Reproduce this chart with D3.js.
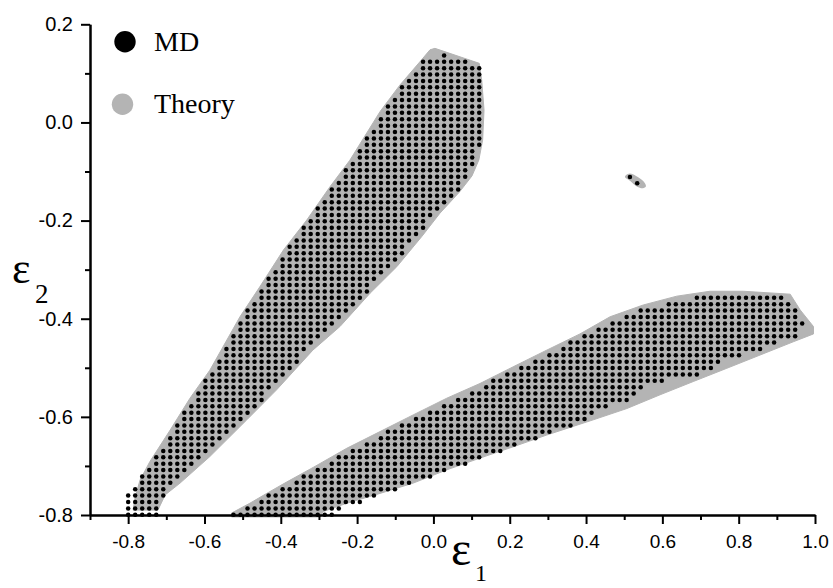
<!DOCTYPE html>
<html>
<head>
<meta charset="utf-8">
<script src="https://cdn.jsdelivr.net/npm/d3@7"></script>
<style>
  body { margin: 0; background: #fff; }
  svg { display: block; }
  .tick text { font-family: "Liberation Sans", Arial, sans-serif; fill: #000; }
  .x-axis .tick text { font-size: 19px; }
  .y-axis .tick text { font-size: 20px; }
  .serif { font-family: "Liberation Serif", "Times New Roman", serif; fill: #000; }
</style>
</head>
<body>
<svg width="833" height="588"></svg>
<script>
var svg = d3.select("svg"),
    width = +svg.attr("width"),
    height = +svg.attr("height");

// axis ticks
var xMajor = [-0.8, -0.6, -0.4, -0.2, 0.0, 0.2, 0.4, 0.6, 0.8, 1.0];
var xLabels = ["-0.8", "-0.6", "-0.4", "-0.2", "0.0", "0.2", "0.4", "0.6", "0.8", "1.0"];
var xMinor = [-0.9, -0.7, -0.5, -0.3, -0.1, 0.1, 0.3, 0.5, 0.7, 0.9];
var yMajor = [0.2, 0.0, -0.2, -0.4, -0.6, -0.8];
var yLabels = ["0.2", "0.0", "-0.2", "-0.4", "-0.6", "-0.8"];
var yMinor = [0.1, -0.1, -0.3, -0.5, -0.7];

// Theory: grey regions (e1, e2)
var theoryUpper = [
  [0.004, 0.151], [0.120, 0.1205], [0.1265, 0.0865], [0.1326, 0.0253], [0.129, -0.0358],
  [0.119, -0.0765], [0.101, -0.109], [0.068, -0.142], [0.017, -0.185], [-0.031, -0.233],
  [-0.096, -0.294], [-0.166, -0.348], [-0.245, -0.416], [-0.316, -0.464], [-0.411, -0.545],
  [-0.489, -0.606], [-0.586, -0.681], [-0.664, -0.735], [-0.703, -0.759], [-0.722, -0.790],
  [-0.787, -0.790], [-0.782, -0.765], [-0.769, -0.729], [-0.743, -0.691], [-0.690, -0.627],
  [-0.638, -0.562], [-0.586, -0.505], [-0.507, -0.396], [-0.455, -0.335], [-0.393, -0.260],
  [-0.332, -0.199], [-0.271, -0.131], [-0.219, -0.077], [-0.140, 0.022], [-0.088, 0.076],
  [-0.035, 0.124], [-0.009, 0.148]
];
var theoryLower = [
  [-0.529, -0.796], [-0.481, -0.776], [-0.437, -0.756], [-0.385, -0.733], [-0.315, -0.703],
  [-0.227, -0.664], [-0.140, -0.630], [-0.053, -0.596], [0.035, -0.562], [0.122, -0.532],
  [0.209, -0.498], [0.297, -0.464], [0.384, -0.431], [0.463, -0.396], [0.550, -0.372],
  [0.638, -0.354], [0.725, -0.344], [0.812, -0.344], [0.935, -0.350], [0.961, -0.382],
  [0.996, -0.416], [0.996, -0.431], [0.943, -0.447], [0.856, -0.474], [0.769, -0.501],
  [0.681, -0.528], [0.594, -0.555], [0.507, -0.583], [0.419, -0.606], [0.297, -0.637],
  [0.209, -0.661], [0.122, -0.684], [0.035, -0.708], [-0.053, -0.735], [-0.140, -0.756],
  [-0.227, -0.776], [-0.289, -0.793], [-0.297, -0.804], [-0.529, -0.804]
];
var theoryIsland = [
  [0.505, -0.107], [0.515, -0.104], [0.531, -0.109], [0.549, -0.119], [0.557, -0.130],
  [0.549, -0.134], [0.534, -0.131], [0.515, -0.119], [0.502, -0.111]
];

// MD: simulation lattice and the outline of the sampled points
var mdStepX = 0.0184, mdStepY = 0.013, mdOriginX = -0.8, mdOriginY = -0.7995;
var mdOutlineUpper = [
  [-0.030, 0.124], [0.025, 0.140], [0.034, 0.139], [0.123, 0.112], [0.124, 0.088],
  [0.126, 0.025], [0.123, -0.035], [0.113, -0.073], [0.095, -0.105], [0.069, -0.137],
  [0.011, -0.180], [-0.037, -0.228], [-0.102, -0.289], [-0.172, -0.343], [-0.251, -0.411],
  [-0.322, -0.459], [-0.417, -0.540], [-0.495, -0.601], [-0.592, -0.676], [-0.670, -0.730],
  [-0.698, -0.750], [-0.698, -0.758], [-0.720, -0.768], [-0.720, -0.806], [-0.805, -0.806],
  [-0.805, -0.762], [-0.790, -0.748], [-0.772, -0.734], [-0.770, -0.720], [-0.755, -0.708],
  [-0.736, -0.691], [-0.683, -0.627], [-0.631, -0.562], [-0.579, -0.505], [-0.500, -0.396],
  [-0.448, -0.335], [-0.386, -0.260], [-0.325, -0.199], [-0.264, -0.131], [-0.212, -0.077],
  [-0.133, 0.022], [-0.081, 0.076]
];
var mdOutlineLower = [
  [-0.536, -0.794], [-0.486, -0.783], [-0.439, -0.763], [-0.384, -0.740], [-0.316, -0.710],
  [-0.226, -0.672], [-0.140, -0.637], [-0.054, -0.603], [0.036, -0.570], [0.122, -0.539],
  [0.209, -0.505], [0.298, -0.471], [0.384, -0.439], [0.463, -0.405], [0.549, -0.380],
  [0.638, -0.363], [0.712, -0.354], [0.914, -0.354], [0.937, -0.366], [0.955, -0.382],
  [0.974, -0.407], [0.974, -0.415], [0.955, -0.423], [0.955, -0.439], [0.887, -0.452],
  [0.848, -0.464], [0.796, -0.476], [0.762, -0.488], [0.725, -0.502], [0.686, -0.515],
  [0.599, -0.527], [0.544, -0.541], [0.541, -0.555], [0.507, -0.568], [0.455, -0.580],
  [0.416, -0.592], [0.410, -0.606], [0.358, -0.619], [0.313, -0.633], [0.264, -0.645],
  [0.219, -0.659], [0.133, -0.682], [0.046, -0.708], [-0.006, -0.723], [-0.095, -0.747],
  [-0.148, -0.759], [-0.187, -0.774], [-0.240, -0.786], [-0.271, -0.806], [-0.536, -0.806]
];
var mdIsland = [[0.515, -0.111], [0.534, -0.124]];

var x = d3.scaleLinear().domain([-0.9, 1.0]).range([90, 815]);
var y = d3.scaleLinear().domain([-0.8, 0.2]).range([515, 24.3]);

var grey = "#b4b4b4";

var area = d3.line()
    .x(function(d) { return x(d[0]); })
    .y(function(d) { return y(d[1]); })
    .curve(d3.curveLinearClosed);

svg.append("g").selectAll("path")
  .data([theoryUpper, theoryLower])
  .enter().append("path")
    .attr("d", area)
    .attr("fill", grey)
    .attr("stroke", grey)
    .attr("stroke-width", 1)
    .attr("stroke-linejoin", "round");

svg.append("path")
    .attr("d", area.curve(d3.curveCatmullRomClosed)(theoryIsland))
    .attr("fill", grey);

function lattice(outline) {
  var pts = [];
  for (var i = 0; i <= 110; i++) {
    for (var j = 0; j <= 76; j++) {
      var p = [mdOriginX + i * mdStepX, mdOriginY + j * mdStepY];
      if (d3.polygonContains(outline, p)) pts.push(p);
    }
  }
  return pts;
}

var mdPoints = lattice(mdOutlineUpper).concat(lattice(mdOutlineLower), mdIsland);

svg.append("g").selectAll("circle")
  .data(mdPoints)
  .enter().append("circle")
    .attr("cx", function(d) { return x(d[0]); })
    .attr("cy", function(d) { return y(d[1]); })
    .attr("r", 2.25)
    .attr("fill", "#000");

// axes
function styleAxis(g) {
  g.selectAll("path, line").attr("stroke", "#000").attr("stroke-width", 2);
  g.attr("font-family", null).attr("font-size", null);
}

svg.append("g")
    .attr("transform", "translate(0,515)")
    .call(d3.axisBottom(x).tickValues(xMinor).tickSize(5).tickSizeOuter(0).tickFormat(""))
    .call(styleAxis);

svg.append("g")
    .attr("class", "x-axis")
    .attr("transform", "translate(0,515)")
    .call(d3.axisBottom(x).tickValues(xMajor).tickSize(9).tickSizeOuter(0).tickPadding(11)
      .tickFormat(function(d, i) { return xLabels[i]; }))
    .call(styleAxis);

svg.append("g")
    .attr("transform", "translate(90,0)")
    .call(d3.axisLeft(y).tickValues(yMinor).tickSize(5).tickSizeOuter(0).tickFormat(""))
    .call(styleAxis);

svg.append("g")
    .attr("class", "y-axis")
    .attr("transform", "translate(90,0)")
    .call(d3.axisLeft(y).tickValues(yMajor).tickSize(9).tickSizeOuter(0).tickPadding(8)
      .tickFormat(function(d, i) { return yLabels[i]; }))
    .call(styleAxis);

// axis titles
svg.append("text").attr("class", "serif").attr("x", 12).attr("y", 283)
    .style("font-size", "44px").text("\u03b5");
svg.append("text").attr("class", "serif").attr("x", 35).attr("y", 303)
    .style("font-size", "27px").text("2");
svg.append("text").attr("class", "serif").attr("x", 451).attr("y", 565)
    .style("font-size", "48px").text("\u03b5");
svg.append("text").attr("class", "serif").attr("x", 475).attr("y", 581)
    .style("font-size", "24px").text("1");

// legend
var legend = [
  {label: "MD", color: "#000", cx: 125, cy: 41.7, ty: 51},
  {label: "Theory", color: grey, cx: 122.5, cy: 104.3, ty: 113}
];
var lg = svg.append("g").selectAll("g").data(legend).enter().append("g");
lg.append("circle")
    .attr("cx", function(d) { return d.cx; })
    .attr("cy", function(d) { return d.cy; })
    .attr("r", 10.7)
    .attr("fill", function(d) { return d.color; });
lg.append("text")
    .attr("class", "serif")
    .attr("x", 154)
    .attr("y", function(d) { return d.ty; })
    .style("font-size", "28px")
    .text(function(d) { return d.label; });
</script>
</body>
</html>
